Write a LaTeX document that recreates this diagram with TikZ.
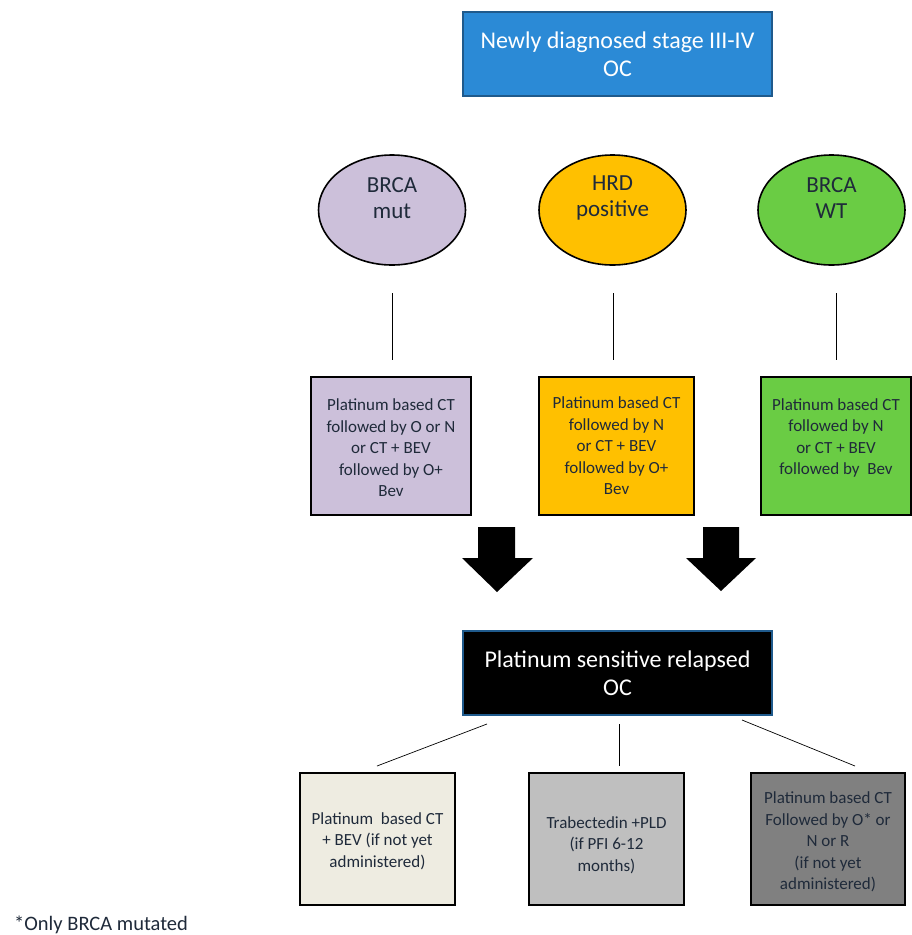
\documentclass[tikz,border=0pt]{standalone}
\usepackage{fontspec}
\setmainfont{Carlito}
\usetikzlibrary{shapes.geometric}
\definecolor{topblue}{HTML}{2B8AD6}
\definecolor{topborder}{HTML}{1F5A8C}
\definecolor{lav}{HTML}{CCC0DA}
\definecolor{amber}{HTML}{FFC000}
\definecolor{grn}{HTML}{6ACC44}
\definecolor{beige}{HTML}{EEECE1}
\definecolor{lgray}{HTML}{BFBFBF}
\definecolor{dgray}{HTML}{808080}
\definecolor{txt}{HTML}{1F2A3A}
\begin{document}
\begin{tikzpicture}[x=1pt,y=-1pt,
  head/.style={draw=topborder,line width=2pt,minimum width=309pt,minimum height=84pt,align=center,text=white,font=\fontsize{24}{28}\selectfont,inner sep=0pt},
  oval/.style={ellipse,draw=black,line width=1.6pt,minimum width=147pt,minimum height=110pt,inner sep=0pt},
  ovaltext/.style={align=center,font=\fontsize{23}{26}\selectfont,text=txt,inner sep=0pt},
  tbox/.style={draw=black,line width=2.5pt,inner sep=0pt},
  boxtext/.style={align=center,font=\fontsize{17}{21.5}\selectfont,text=txt,inner sep=0pt},
  conn/.style={draw=black,line width=0.7pt},
  blk/.style={fill=black}]
\useasboundingbox (0,0) rectangle (911,935);
\node[head,fill=topblue] (top) at (617.5,54) {Newly diagnosed stage III-IV\\OC};
\node[oval,fill=lav] (e1) at (392,210) {};
\node[oval,fill=amber] (e2) at (612.5,210) {};
\node[oval,fill=grn] (e3) at (831.5,210) {};
\node[ovaltext] (e1t) at (392,198) {BRCA\\mut};
\node[ovaltext] (e2t) at (612.5,198) {HRD\\positive};
\node[ovaltext] (e3t) at (831.5,198) {BRCA\\WT};
\node[tbox,fill=lav,minimum width=160pt,minimum height=138pt] (b1) at (391,446) {};
\node[tbox,fill=amber,minimum width=155pt,minimum height=138pt] (b2) at (616.5,446) {};
\node[tbox,fill=grn,minimum width=150pt,minimum height=138pt] (b3) at (836,446) {};
\node[boxtext] (b1t) at (391,448) {Platinum based CT\\followed by O or N\\or CT + BEV\\followed by O+\\Bev};
\node[boxtext] (b2t) at (616.5,446) {Platinum based CT\\followed by N\\or CT + BEV\\followed by O+\\Bev};
\node[boxtext] (b3t) at (836,438) {Platinum based CT\\followed by N\\or CT + BEV\\followed by\ \ Bev};
\coordinate (l1t) at (392,293); \coordinate (l1b) at (392,360);
\coordinate (l2t) at (613,293); \coordinate (l2b) at (613,360);
\coordinate (l3t) at (836,293); \coordinate (l3b) at (836,360);
\draw[conn] (l1t) -- (l1b);
\draw[conn] (l2t) -- (l2b);
\draw[conn] (l3t) -- (l3b);
% block arrows
\fill[blk] (478,527) -- (515,527) -- (515,558) -- (533,558) -- (497,592) -- (462,558) -- (478,558) -- cycle;
\fill[blk] (703,527) -- (739,527) -- (739,558) -- (756,558) -- (721,591) -- (686,558) -- (703,558) -- cycle;
\node[head,fill=black,draw=topborder] (rel) at (617.5,673) {Platinum sensitive relapsed\\OC};
\node[tbox,fill=beige,minimum width=155pt,minimum height=132pt] (c1) at (377.5,839) {};
\node[tbox,fill=lgray,minimum width=155pt,minimum height=132pt] (c2) at (606.5,839) {};
\node[tbox,fill=dgray,minimum width=154pt,minimum height=132pt] (c3) at (828,839) {};
\node[boxtext] (c1t) at (377.5,841) {Platinum\ \ based CT\\+ BEV (if not yet\\administered)};
\node[boxtext] (c2t) at (606.5,845) {Trabectedin +PLD\\(if PFI 6-12\\months)};
\node[boxtext] (c3t) at (828,842) {Platinum based CT\\Followed by O* or\\N or R\\(if not yet\\administered)};
\coordinate (m1a) at (487,724); \coordinate (m1b) at (377,766);
\coordinate (m2a) at (619,724); \coordinate (m2b) at (619,766);
\coordinate (m3a) at (742,720); \coordinate (m3b) at (855,766);
\draw[conn] (m1a) -- (m1b);
\draw[conn] (m2a) -- (m2b);
\draw[conn] (m3a) -- (m3b);
\node[anchor=west,font=\fontsize{20.5}{22}\selectfont,text=txt,inner sep=0pt] (foot) at (14,925) {*Only BRCA mutated};
\end{tikzpicture}
\end{document}
